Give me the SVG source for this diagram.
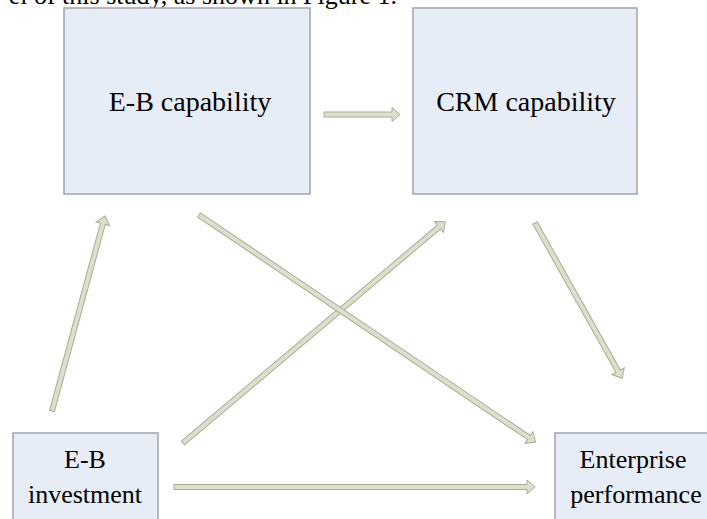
<svg xmlns="http://www.w3.org/2000/svg" width="707" height="519" viewBox="0 0 707 519">
<style>
.box{fill:#e7edf7;stroke:#a2a4ac;stroke-width:1.5}
.lbl{font-family:"Liberation Serif","Times New Roman",serif;font-size:26px;fill:#000;text-anchor:middle}
.big{font-size:28px}
.arr{fill:#dde0c9;stroke:#a9ab99;stroke-width:1}
</style>
<rect width="707" height="519" fill="#ffffff"/>
<text x="397" y="4" font-family="Liberation Serif, serif" font-size="26" text-anchor="end">el of this study, as shown in Figure 1.</text>
<g id="eb-capability">
<rect class="box" x="64" y="8" width="246" height="186"/>
<text class="lbl big" x="190" y="111">E-B capability</text>
</g>
<g id="crm-capability">
<rect class="box" x="413" y="8" width="224" height="186"/>
<text class="lbl big" x="526" y="111">CRM capability</text>
</g>
<g id="eb-investment">
<rect class="box" x="13" y="433" width="145" height="95"/>
<text class="lbl" x="85" y="468">E-B</text>
<text class="lbl" x="85" y="503">investment</text>
</g>
<g id="enterprise-performance">
<rect class="box" x="555" y="433" width="165" height="95"/>
<text class="lbl" x="633" y="468" font-size="27">Enterprise</text>
<text class="lbl" x="636" y="503" font-size="27">performance</text>
</g>
<g id="connectors">
<polygon class="arr" transform="translate(324,114.5)" points="0,-2.5 68,-2.5 68,-7 76,0 68,7 68,2.5 0,2.5"/>
<polygon class="arr" transform="translate(52,411) rotate(-74.8)" points="0,-2.5 194,-2.5 194,-7 202,0 194,7 194,2.5 0,2.5"/>
<polygon class="arr" transform="translate(183,443) rotate(-40.15)" points="0,-2.5 335,-2.5 335,-7 343,0 335,7 335,2.5 0,2.5"/>
<polygon class="arr" transform="translate(199,215) rotate(34.0)" points="0,-2.5 398,-2.5 398,-7 406,0 398,7 398,2.5 0,2.5"/>
<polygon class="arr" transform="translate(535,223) rotate(60.7)" points="0,-2.5 170,-2.5 170,-7 178,0 170,7 170,2.5 0,2.5"/>
<polygon class="arr" transform="translate(174,487)" points="0,-2.5 353,-2.5 353,-7 361,0 353,7 353,2.5 0,2.5"/>
</g>
</svg>
